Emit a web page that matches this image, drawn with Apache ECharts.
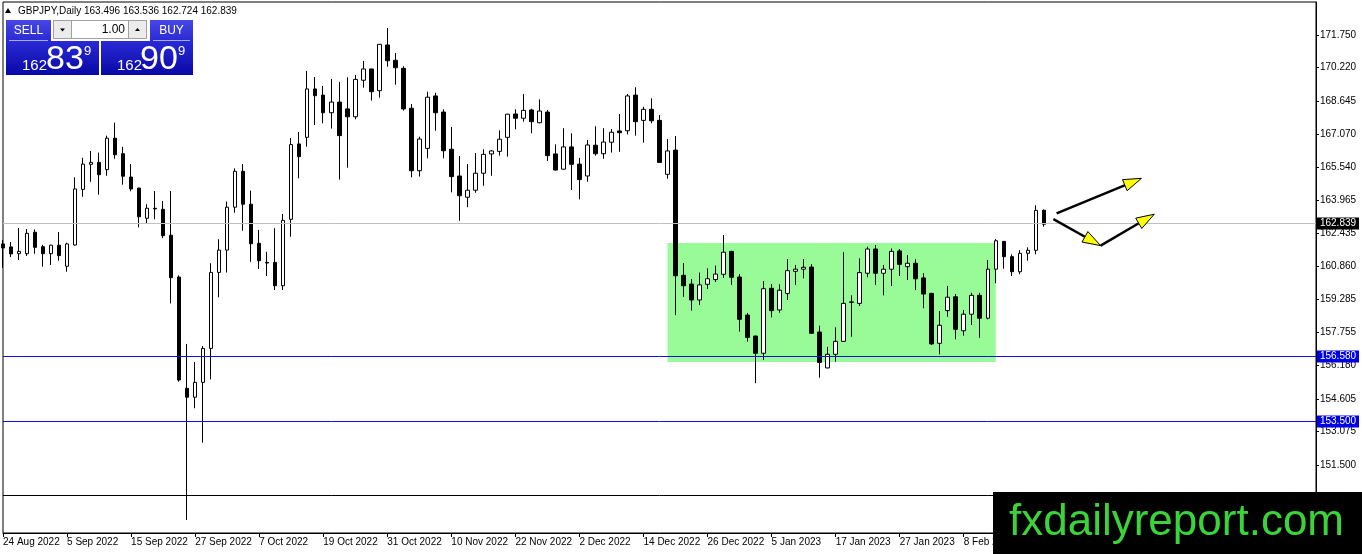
<!DOCTYPE html>
<html><head><meta charset="utf-8">
<script src="https://cdn.jsdelivr.net/npm/echarts@6.0.0/dist/echarts.min.js"></script>
<style>html,body{margin:0;padding:0;background:#fff;}#c{width:1362px;height:554px;}</style>
</head><body><div id="c"></div>
<script>
const symbolName = 'GBPJPY,Daily';
const dates = [
'24 Aug 2022','25 Aug 2022','26 Aug 2022','29 Aug 2022','30 Aug 2022','31 Aug 2022',
'1 Sep 2022','2 Sep 2022','5 Sep 2022','6 Sep 2022','7 Sep 2022','8 Sep 2022','9 Sep 2022','12 Sep 2022','13 Sep 2022','14 Sep 2022','15 Sep 2022','16 Sep 2022','19 Sep 2022','20 Sep 2022','21 Sep 2022','22 Sep 2022','23 Sep 2022','26 Sep 2022','27 Sep 2022','28 Sep 2022','29 Sep 2022','30 Sep 2022',
'3 Oct 2022','4 Oct 2022','5 Oct 2022','6 Oct 2022','7 Oct 2022','10 Oct 2022','11 Oct 2022','12 Oct 2022','13 Oct 2022','14 Oct 2022','17 Oct 2022','18 Oct 2022','19 Oct 2022','20 Oct 2022','21 Oct 2022','24 Oct 2022','25 Oct 2022','26 Oct 2022','27 Oct 2022','28 Oct 2022','31 Oct 2022',
'1 Nov 2022','2 Nov 2022','3 Nov 2022','4 Nov 2022','7 Nov 2022','8 Nov 2022','9 Nov 2022','10 Nov 2022','11 Nov 2022','14 Nov 2022','15 Nov 2022','16 Nov 2022','17 Nov 2022','18 Nov 2022','21 Nov 2022','22 Nov 2022','23 Nov 2022','24 Nov 2022','25 Nov 2022','28 Nov 2022','29 Nov 2022','30 Nov 2022',
'1 Dec 2022','2 Dec 2022','5 Dec 2022','6 Dec 2022','7 Dec 2022','8 Dec 2022','9 Dec 2022','12 Dec 2022','13 Dec 2022','14 Dec 2022','15 Dec 2022','16 Dec 2022','19 Dec 2022','20 Dec 2022','21 Dec 2022','22 Dec 2022','23 Dec 2022','26 Dec 2022','27 Dec 2022','28 Dec 2022','29 Dec 2022','30 Dec 2022',
'2 Jan 2023','3 Jan 2023','4 Jan 2023','5 Jan 2023','6 Jan 2023','9 Jan 2023','10 Jan 2023','11 Jan 2023','12 Jan 2023','13 Jan 2023','16 Jan 2023','17 Jan 2023','18 Jan 2023','19 Jan 2023','20 Jan 2023','23 Jan 2023','24 Jan 2023','25 Jan 2023','26 Jan 2023','27 Jan 2023','30 Jan 2023','31 Jan 2023',
'1 Feb 2023','2 Feb 2023','3 Feb 2023','6 Feb 2023','7 Feb 2023','8 Feb 2023','9 Feb 2023','10 Feb 2023','13 Feb 2023','14 Feb 2023','15 Feb 2023','16 Feb 2023','17 Feb 2023','20 Feb 2023','21 Feb 2023','22 Feb 2023'
];
const opens = [
161.91,161.77,161.45,161.45,162.46,161.78,161.45,161.85,160.86,161.86,
164.48,165.66,165.75,165.41,166.89,166.16,165.06,164.54,163.12,163.59,
163.54,162.32,160.35,155.11,154.69,155.39,156.99,160.57,161.62,163.64,
165.33,163.78,161.94,161.04,161.04,159.94,163.07,166.62,166.93,169.21,
168.92,168.09,168.59,168.27,167.90,169.62,170.15,169.13,171.28,170.56,
170.18,168.30,165.36,166.41,168.88,168.12,166.37,165.11,164.11,164.44,
165.24,166.15,166.27,166.93,168.03,167.83,168.22,167.62,168.12,166.15,
165.43,166.48,165.67,165.11,166.56,166.16,166.70,167.23,167.24,168.92,
167.73,168.25,167.73,165.19,166.33,160.43,160.02,159.27,160.01,160.23,
160.48,161.56,160.35,158.56,157.57,156.76,159.82,158.80,159.58,160.62,
160.72,160.82,157.76,156.07,156.71,157.32,159.18,159.11,160.53,161.67,
160.53,160.72,161.58,160.84,161.00,160.31,159.58,157.23,158.77,159.42,
157.82,158.60,159.49,158.41,160.72,162.03,161.31,160.60,161.47,161.61,
163.496];
const highs = [
162.10,162.00,162.66,162.61,162.60,161.87,161.87,162.47,161.97,165.05,
165.97,166.29,166.21,167.01,167.62,166.48,165.67,164.56,163.78,164.40,
163.93,164.40,160.43,157.20,156.35,157.10,161.00,162.13,163.90,165.47,
165.67,164.42,162.57,161.54,162.65,163.32,166.90,167.18,170.06,169.77,
169.35,169.68,169.54,169.76,169.87,170.53,170.16,171.33,172.08,170.90,
170.28,168.50,166.96,169.08,169.03,168.25,167.42,166.05,165.67,166.19,
166.37,166.33,167.26,168.04,168.25,168.97,168.28,168.72,168.22,166.60,
167.36,167.12,165.96,166.81,167.45,167.36,167.32,168.03,168.97,169.29,
168.37,168.77,167.98,166.85,166.99,161.01,160.26,160.56,160.76,160.89,
162.33,161.58,160.49,158.66,157.59,160.16,160.02,160.01,161.20,160.92,
161.20,160.96,158.06,157.06,157.98,161.52,159.49,161.23,161.78,161.86,
160.92,161.70,161.67,161.39,161.19,160.53,159.61,158.75,159.93,159.55,
158.80,159.61,159.61,161.15,162.14,162.05,161.42,161.62,161.75,163.73,
163.536];
const lows = [
160.78,161.29,161.15,161.34,161.45,160.84,160.92,161.12,160.60,161.83,
164.13,164.84,164.23,165.12,165.92,164.70,164.39,162.69,162.88,163.07,
162.18,159.11,155.42,148.91,154.17,152.55,155.53,159.40,160.56,163.38,
162.53,161.07,160.73,160.40,159.74,159.74,162.25,165.00,166.49,167.51,
167.59,167.34,164.94,165.50,167.78,169.27,168.66,168.80,170.26,169.41,
168.19,165.05,165.08,165.94,167.24,165.94,164.34,163.00,163.64,164.32,
164.65,165.12,166.07,166.02,167.31,167.67,167.12,167.59,165.82,165.37,
165.41,164.45,164.01,164.84,166.07,165.92,166.21,166.25,167.07,167.01,
166.68,167.59,165.73,164.98,158.56,159.42,158.77,159.03,159.79,160.12,
160.31,159.98,157.78,157.31,155.35,156.44,158.45,158.67,159.27,159.98,
160.29,157.68,155.61,156.05,156.36,157.30,157.54,158.99,160.34,159.98,
159.49,159.93,160.40,160.21,159.74,158.88,157.15,156.71,158.48,157.42,
157.59,158.09,157.49,158.36,160.06,160.74,160.40,160.48,161.12,161.42,
162.724];
const closes = [
161.72,161.44,161.56,162.41,161.75,161.45,161.85,161.36,161.91,164.50,
165.67,165.75,165.17,166.89,166.11,165.10,164.50,163.19,163.59,163.56,
162.30,160.32,155.50,154.69,155.39,156.99,160.57,161.62,163.64,165.33,
163.78,161.92,161.12,161.01,159.94,163.02,166.59,166.02,169.21,168.89,
168.09,168.59,167.01,167.90,169.66,170.15,169.08,171.31,170.54,170.21,
168.27,165.36,166.85,168.82,168.09,166.30,165.08,164.18,164.44,165.24,
166.13,166.29,166.84,168.02,167.83,168.20,167.67,168.17,166.07,165.39,
166.48,165.66,164.94,166.57,166.16,166.71,167.17,167.15,168.88,167.67,
168.25,167.71,165.75,166.29,160.41,159.94,159.27,159.98,160.27,160.49,
161.52,160.34,158.36,157.51,156.76,159.80,158.77,159.73,160.65,160.72,
160.81,157.70,156.33,156.71,157.32,159.11,159.16,160.56,161.67,160.53,
160.72,161.56,160.95,161.00,160.27,159.55,157.20,158.08,159.40,157.89,
158.60,159.49,158.41,160.72,162.06,161.31,160.60,161.47,161.61,163.49,
162.839];
const yTicks = [171.750,170.220,168.645,167.070,165.540,163.965,162.435,160.860,159.285,157.755,156.180,154.605,153.075,151.500];
const bid = 162.839;
const ask = 162.909;
const lotSize = '1.00';
const blueLevels = [156.580, 153.500];
const blackLevel = 150.000;
const zoneBars = [83, 124];
const zonePrices = [161.95, 156.35];
// arrows: [fromBar, fromPrice, toBar, toPrice]
const arrows = [
  [131.6, 163.35, 142.2, 165.00],
  [131.2, 163.08, 137.1, 161.83],
  [137.1, 161.83, 143.8, 163.31]
];
const watermark = 'fxdailyreport.com';

const FONT = '"Liberation Sans", Arial, sans-serif';
const TOTAL = 165;
const cats = dates.concat(Array.from({length: TOTAL - dates.length}, (_, k) => '~' + k));
const candles = opens.map((o, i) => [o, closes[i], lows[i], highs[i]]);
const last = opens.length - 1;
const titleText = symbolName + ' ' + [opens[last], highs[last], lows[last], closes[last]].map(v => v.toFixed(3)).join(' ');

function splitQuote(p) {
  const s = p.toFixed(3);
  return { big: s.slice(0, 3), pips: s.slice(4, 6), frac: s.slice(6) };
}
const qb = splitQuote(bid), qa = splitQuote(ask);

const LINE_COLORS = { 1: '#1010d8', 2: '#c0c0c0', 3: '#000000' };
const BLUE_LBL = '#0000e6';

function renderArrow(params, api) {
  const a = api.coord([api.value(0), api.value(1)]);
  const b = api.coord([api.value(2), api.value(3)]);
  const dx = b[0] - a[0], dy = b[1] - a[1], len = Math.hypot(dx, dy);
  const ux = dx / len, uy = dy / len, nx = -uy, ny = ux;
  const L = 18, W = 6;
  const bx = b[0] - ux * L, by = b[1] - uy * L;
  return { type: 'group', children: [
    { type: 'line', shape: { x1: a[0], y1: a[1], x2: bx + ux * 3, y2: by + uy * 3 }, style: { stroke: '#000', lineWidth: 2.4 } },
    { type: 'polygon', shape: { points: [[b[0], b[1]], [bx + nx * W, by + ny * W], [bx - nx * W, by - ny * W]] }, style: { fill: '#ffff00', stroke: '#000', lineWidth: 1 } }
  ]};
}

function snapY(api) {
  return Math.floor(api.coord([0, api.value(0)])[1]) - 0.5;
}

function renderLevel(params, api) {
  const y = snapY(api);
  const cs = params.coordSys;
  return { type: 'line', shape: { x1: cs.x, y1: y, x2: cs.x + cs.width, y2: y },
    style: { stroke: LINE_COLORS[api.value(1)], lineWidth: 1 } };
}

function renderTag(params, api) {
  const y = snapY(api);
  const cs = params.coordSys;
  const bg = api.value(1) === 2 ? '#000' : BLUE_LBL;
  return { type: 'rect', shape: { x: cs.x + cs.width + 1, y: y - 6, width: 42, height: 12 }, style: { fill: bg },
    textContent: { style: { text: api.value(0).toFixed(3), fill: '#fff', font: '10px ' + FONT } },
    textConfig: { position: 'inside' } };
}

const btnGrad = () => new echarts.graphic.LinearGradient(0, 0, 0, 1, [{offset: 0, color: '#4747e6'}, {offset: 1, color: '#2a2ad2'}]);
const boxGrad = () => new echarts.graphic.LinearGradient(0, 0, 0, 1, [{offset: 0, color: '#2a2ad6'}, {offset: 1, color: '#0808a6'}]);

// level rows: [price, kind]  kind 1 = blue level, 2 = bid (grey), 3 = black
const levelRows = [[bid, 2], [blueLevels[0], 1], [blueLevels[1], 1], [blackLevel, 3]];
const tagRows = [[bid, 2], [blueLevels[0], 1], [blueLevels[1], 1]];

const chart = echarts.init(document.getElementById('c'), null, { renderer: 'canvas', width: 1362, height: 554 });

chart.setOption({
  animation: false,
  backgroundColor: '#fff',
  grid: { left: 2, top: 2, right: 46, bottom: 21, show: true, borderColor: '#000', borderWidth: 1, backgroundColor: 'transparent' },
  xAxis: [
    { type: 'category', data: cats, boundaryGap: false,
      axisLine: { show: true, onZero: false, lineStyle: { color: '#000', width: 1 } },
      axisTick: { show: true, interval: 7, length: 4, lineStyle: { color: '#000' } },
      axisLabel: { interval: 7, align: 'left', margin: 4, color: '#000', fontSize: 10, fontFamily: FONT,
        formatter: (v, i) => (i < dates.length ? v : '') },
      splitLine: { show: false } },
    { type: 'value', min: 0, max: TOTAL - 1, show: false }
  ],
  yAxis: { type: 'value', position: 'right', min: 148.295, max: 173.305,
    axisLine: { show: true, onZero: false, lineStyle: { color: '#000' } },
    axisTick: { show: true, length: 3, customValues: yTicks, lineStyle: { color: '#000' } },
    axisLabel: { customValues: yTicks, formatter: v => v.toFixed(3), margin: 4, color: '#000', fontSize: 10, fontFamily: FONT },
    splitLine: { show: false } },
  series: [
    { type: 'candlestick', data: candles, barWidth: 4, clip: true, z: 3,
      itemStyle: { color: '#fff', color0: '#000', borderColor: '#000', borderColor0: '#000', borderWidth: 1 },
      emphasis: { disabled: true },
      markArea: { silent: true, itemStyle: { color: '#98fb98', opacity: 1 },
        data: [[{ xAxis: dates[zoneBars[0]], yAxis: zonePrices[0] }, { xAxis: dates[zoneBars[1]], yAxis: zonePrices[1] }]] } },
    { type: 'custom', xAxisIndex: 1, yAxisIndex: 0, data: levelRows, encode: { y: 0 }, renderItem: renderLevel, z: 4, silent: true, clip: false },
    { type: 'custom', xAxisIndex: 1, yAxisIndex: 0, data: tagRows, encode: { y: 0 }, renderItem: renderTag, z: 20, silent: true, clip: false },
    { type: 'custom', xAxisIndex: 1, yAxisIndex: 0, data: arrows, renderItem: renderArrow, z: 10, silent: true }
  ],
  graphic: { elements: [
    { type: 'polygon', shape: { points: [[5, 13], [11, 13], [8, 8]] }, style: { fill: '#000' }, z: 100 },
    { type: 'text', x: 18, y: 11, style: { text: titleText, font: '10px ' + FONT, fill: '#000', verticalAlign: 'middle' }, z: 100 },
    // trade panel
    { type: 'rect', shape: { x: 6, y: 20, width: 45, height: 21 }, style: { fill: btnGrad() }, z: 100 },
    { type: 'rect', shape: { x: 6, y: 41, width: 93, height: 34 }, style: { fill: boxGrad() }, z: 100 },
    { type: 'line', shape: { x1: 9, y1: 40.5, x2: 48, y2: 40.5 }, style: { stroke: 'rgba(200,200,255,0.8)', lineWidth: 1 }, z: 101 },
    { type: 'text', x: 28.5, y: 30.5, style: { text: 'SELL', font: '12px ' + FONT, fill: '#fff', align: 'center', verticalAlign: 'middle' }, z: 101 },
    { type: 'rect', shape: { x: 150, y: 20, width: 43, height: 21 }, style: { fill: btnGrad() }, z: 100 },
    { type: 'rect', shape: { x: 101, y: 41, width: 92, height: 34 }, style: { fill: boxGrad() }, z: 100 },
    { type: 'line', shape: { x1: 153, y1: 40.5, x2: 190, y2: 40.5 }, style: { stroke: 'rgba(200,200,255,0.8)', lineWidth: 1 }, z: 101 },
    { type: 'text', x: 171.5, y: 30.5, style: { text: 'BUY', font: '12px ' + FONT, fill: '#fff', align: 'center', verticalAlign: 'middle' }, z: 101 },
    { type: 'rect', shape: { x: 53.5, y: 20.5, width: 93, height: 18 }, style: { fill: '#fff', stroke: '#a0a0a0', lineWidth: 1 }, z: 100 },
    { type: 'rect', shape: { x: 53.5, y: 20.5, width: 18, height: 18 }, style: { fill: '#ececec', stroke: '#a0a0a0', lineWidth: 1 }, z: 101 },
    { type: 'rect', shape: { x: 128.5, y: 20.5, width: 18, height: 18 }, style: { fill: '#ececec', stroke: '#a0a0a0', lineWidth: 1 }, z: 101 },
    { type: 'polygon', shape: { points: [[60, 28.5], [65, 28.5], [62.5, 31.5]] }, style: { fill: '#000' }, z: 102 },
    { type: 'polygon', shape: { points: [[135, 31], [140, 31], [137.5, 28]] }, style: { fill: '#000' }, z: 102 },
    { type: 'text', x: 125, y: 30, style: { text: lotSize, font: '12px ' + FONT, fill: '#000', align: 'right', verticalAlign: 'middle' }, z: 102 },
    { type: 'text', x: 22, y: 65.5, style: { text: qb.big, font: '15px ' + FONT, fill: '#fff', verticalAlign: 'middle' }, z: 101 },
    { type: 'text', x: 46, y: 59.5, style: { text: qb.pips, font: '34px ' + FONT, fill: '#fff', verticalAlign: 'middle' }, z: 101 },
    { type: 'text', x: 84, y: 51, style: { text: qb.frac, font: '13px ' + FONT, fill: '#fff', verticalAlign: 'middle' }, z: 101 },
    { type: 'text', x: 117, y: 65.5, style: { text: qa.big, font: '15px ' + FONT, fill: '#fff', verticalAlign: 'middle' }, z: 101 },
    { type: 'text', x: 140, y: 59.5, style: { text: qa.pips, font: '34px ' + FONT, fill: '#fff', verticalAlign: 'middle' }, z: 101 },
    { type: 'text', x: 178, y: 51, style: { text: qa.frac, font: '13px ' + FONT, fill: '#fff', verticalAlign: 'middle' }, z: 101 },
    // watermark
    { type: 'rect', shape: { x: 993, y: 492, width: 369, height: 62 }, style: { fill: '#000' }, z: 200 },
    { type: 'text', x: 1009, y: 523, style: { text: watermark, font: '44px ' + FONT, fill: '#3ad43a', verticalAlign: 'middle' }, z: 201 }
  ] }
});
</script>
</body></html>
